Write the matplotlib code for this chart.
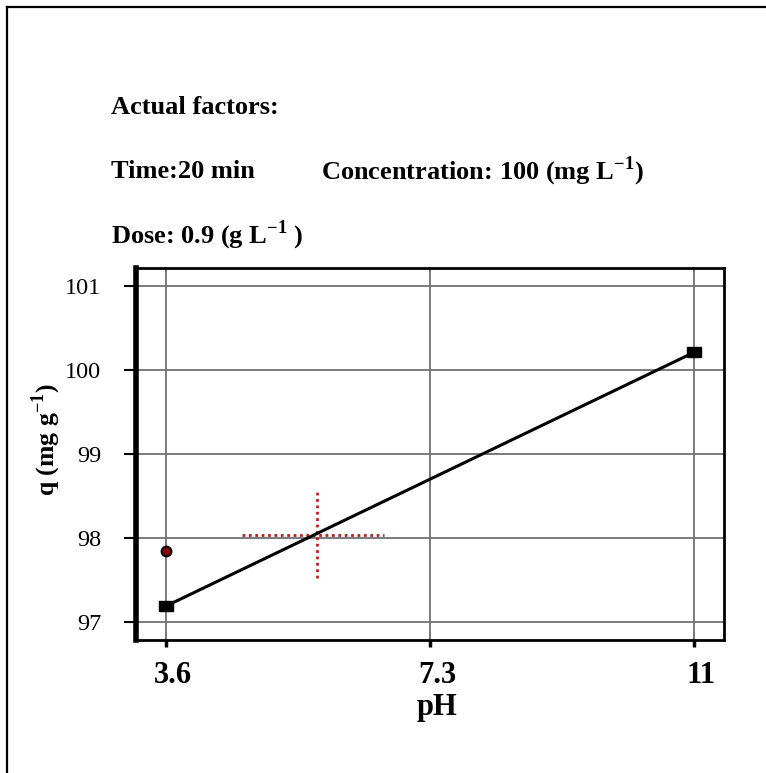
import matplotlib
matplotlib.use("Agg")
import matplotlib.pyplot as plt
import matplotlib.transforms as mtransforms
from matplotlib.lines import Line2D

# ---- data ----
ph_line = [3.6, 11.0]
q_line = [97.19, 100.21]
ph_actual = [3.6]
q_actual = [97.845]
cross_center = (5.71, 98.03)
cross_x_range = [4.67, 6.66]
cross_y_range = [97.52, 98.58]
xticks = [3.6, 7.3, 11]
xtick_labels = ["3.6", "7.3", "11"]
yticks = [97, 98, 99, 100, 101]

plt.rcParams['font.family'] = ['Liberation Serif', 'DejaVu Serif']
plt.rcParams['mathtext.fontset'] = 'custom'
plt.rcParams['mathtext.rm'] = 'Liberation Serif'
plt.rcParams['mathtext.bf'] = 'Liberation Serif:bold'

W, H = 766, 773
fig = plt.figure(figsize=(W / 100, H / 100), dpi=100)

# outer frame (left & top)
fig.add_artist(Line2D([7 / W, 7 / W], [0, 1 - 7 / H], transform=fig.transFigure, color='black', lw=1.6))
fig.add_artist(Line2D([7 / W, 1], [1 - 7 / H, 1 - 7 / H], transform=fig.transFigure, color='black', lw=1.6))

ax = fig.add_axes([136 / W, 1 - 640 / H, (724 - 136) / W, (640 - 268) / H])

ax.set_xlim(3.18, 11.42)
ax.set_ylim(96.786, 101.214)
ax.set_xticks(xticks)
ax.set_xticklabels(xtick_labels, fontweight='bold', fontsize=22)
ax.set_yticks(yticks)
ax.set_yticklabels([str(v) for v in yticks], fontsize=17.5)
ax.grid(True, color='#707070', lw=1.3)
ax.set_axisbelow(True)

for side in ['top', 'right', 'bottom']:
    ax.spines[side].set_linewidth(2.0)
ax.spines['left'].set_linewidth(4.0)
ax.tick_params(axis='y', direction='out', length=9, width=1.5, pad=16)
ax.tick_params(axis='x', direction='out', length=5, width=2.5, pad=10)

shift = mtransforms.ScaledTranslation(7 / 100, 0, fig.dpi_scale_trans)
for lbl in ax.get_xticklabels():
    lbl.set_transform(lbl.get_transform() + shift)

rect_marker = [(-1.3, -1), (1.3, -1), (1.3, 1), (-1.3, 1), (-1.3, -1)]

# main line
ax.plot(ph_line, q_line, color='black', lw=2.2, marker=rect_marker, markersize=10,
        markerfacecolor='black', markeredgecolor='black', zorder=5)
# actual point
ax.plot(ph_actual, q_actual, linestyle='none', marker='o', markersize=7,
        markerfacecolor='#8b0000', markeredgecolor='black', markeredgewidth=1.5, zorder=6)
# crosshair
ax.plot(cross_x_range, [cross_center[1]] * 2, color='#b22222', lw=2.0, linestyle=(0, (1, 1.3)), zorder=4)
ax.plot([cross_center[0]] * 2, cross_y_range, color='#b22222', lw=2.0, linestyle=(0, (1, 1.3)), zorder=4)

ax.set_xlabel('pH', fontweight='bold', fontsize=22)
ax.xaxis.set_label_coords(0.512, -0.142)
ax.set_ylabel(r'q (mg g$^{\mathbf{-1}}$)', fontweight='bold', fontsize=18.5)
ax.yaxis.set_label_coords(-0.124, 0.5376)

# annotation texts
fs = 19
fig.text(111 / W, 1 - 107 / H, 'Actual factors:', fontweight='bold', fontsize=fs, va='center', ha='left')
fig.text(111 / W, 1 - 171 / H, 'Time:20 min', fontweight='bold', fontsize=fs, va='center', ha='left')
fig.text(321 / W, 1 - 171 / H, r'Concentration: 100 (mg L$^{\mathbf{-1}}$)', fontweight='bold', fontsize=fs, va='center', ha='left')
fig.text(111 / W, 1 - 235 / H, r'Dose: 0.9 (g L$^{\mathbf{-1}}$ )', fontweight='bold', fontsize=fs, va='center', ha='left')

fig.savefig('out.png', dpi=100)
